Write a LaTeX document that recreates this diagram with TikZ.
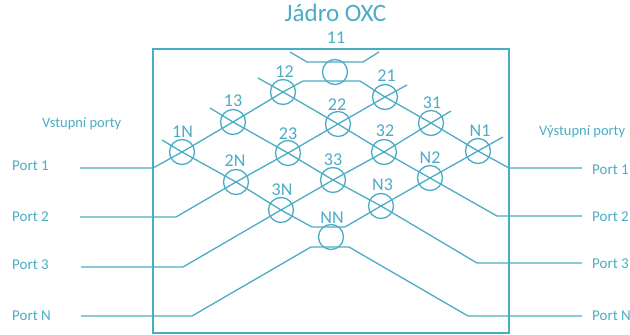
\documentclass[tikz,border=0pt]{standalone}
\usepackage{fontspec}
\setmainfont{Carlito}
\definecolor{oxc}{HTML}{4BACC6}
\begin{document}
\begin{tikzpicture}[x=1pt,y=-1pt,
  wire/.style={draw=oxc, line width=1.3pt, line join=miter},
  frame/.style={draw=oxc, line width=1.8pt},
  sw/.style={circle, draw=oxc, line width=1.3pt, minimum size=25pt, inner sep=0pt},
  num/.style={text=oxc, font=\fontsize{18}{20}\selectfont, inner sep=0pt, anchor=base},
  port/.style={text=oxc, font=\fontsize{15}{17}\selectfont, inner sep=0pt, anchor=base west},
  head/.style={text=oxc, font=\fontsize{14.5}{17}\selectfont, inner sep=0pt, anchor=base west},
  ttl/.style={text=oxc, font=\fontsize{25}{28}\selectfont, inner sep=0pt, anchor=base}]
\useasboundingbox (0,0) rectangle (630,335);

% title and frame
\node[ttl] (title) at (335.5,21) {Jádro OXC};
\draw[frame] (153,49) rectangle (509,333);

% switching elements
\node[sw] (c11) at (335,72) {};
\node[sw] (c12) at (283,92) {};
\node[sw] (c21) at (385,97) {};
\node[sw] (c13) at (233,122) {};
\node[sw] (c22) at (338,124) {};
\node[sw] (c31) at (431,123) {};
\node[sw] (c1N) at (182,152) {};
\node[sw] (c23) at (288,153) {};
\node[sw] (c32) at (384,152) {};
\node[sw] (cN1) at (478,151) {};
\node[sw] (c2N) at (236,182) {};
\node[sw] (c33) at (333,180) {};
\node[sw] (cN2) at (430,178) {};
\node[sw] (c3N) at (281,210) {};
\node[sw] (cN3) at (381,206) {};
\node[sw] (cNN) at (331,237) {};

% element labels
\node[num] (l11) at (336,43) {11};
\node[num] (l12) at (284.5,77) {12};
\node[num] (l21) at (386.5,81) {21};
\node[num] (l13) at (233,106) {13};
\node[num] (l22) at (337,110) {22};
\node[num] (l31) at (432,108) {31};
\node[num] (l1N) at (182.5,137) {1N};
\node[num] (l23) at (288,139) {23};
\node[num] (l32) at (385,136) {32};
\node[num] (lN1) at (480,136) {N1};
\node[num] (l2N) at (235,166) {2N};
\node[num] (l33) at (333,165) {33};
\node[num] (lN2) at (430,163) {N2};
\node[num] (l3N) at (282,195) {3N};
\node[num] (lN3) at (382.5,190) {N3};
\node[num] (lNN) at (332,223) {NN};

% port labels
\node[head] (hin) at (42,127.5) {Vstupní porty};
\node[head] (hout) at (539,135) {Výstupní porty};
\node[port] (pi1) at (12,170) {Port 1};
\node[port] (pi2) at (12,221.7) {Port 2};
\node[port] (pi3) at (12,269) {Port 3};
\node[port] (piN) at (12,320) {Port N};
\node[port] (po1) at (592,174) {Port 1};
\node[port] (po2) at (592,221.7) {Port 2};
\node[port] (po3) at (592,268) {Port 3};
\node[port] (poN) at (592,320) {Port N};

% coordinates of wire ends and bends
\coordinate (i1) at (80,168);   \coordinate (i1b) at (153,168);
\coordinate (i2) at (80,217);   \coordinate (i2b) at (176,217);
\coordinate (i3) at (81,267);   \coordinate (i3b) at (183,267);
\coordinate (iN) at (81,316);   \coordinate (iNb) at (192,316);
\coordinate (o1) at (582,168);  \coordinate (o1b) at (509,168);
\coordinate (o2) at (582,216);  \coordinate (o2b) at (497,216);
\coordinate (o3) at (582,263);  \coordinate (o3b) at (477,263);
\coordinate (oN) at (582,316);  \coordinate (oNb) at (468,316);
\coordinate (u1) at (303,81);   \coordinate (u2) at (360,81);
\coordinate (t1) at (290,52);   \coordinate (t2) at (307,62);
\coordinate (t3) at (363,62);   \coordinate (t4) at (379,52);
\coordinate (s2) at (407,85);   \coordinate (s3) at (451,111);
\coordinate (s4a) at (162,140); \coordinate (s4b) at (503,137);
\coordinate (b1) at (312,227);  \coordinate (b2) at (345,227);
\coordinate (sR2) at (258,78);  \coordinate (sR3) at (210,108);
\coordinate (n1) at (311,247);  \coordinate (n2) at (349,247);

% wires
\draw[wire] (i1) -- (i1b) -- (c1N.center) -- (c13.center) -- (c12.center) -- (u1) -- (u2)
  -- (c21.center) -- (c31.center) -- (cN1.center) -- (o1b) -- (o1);
\draw[wire] (i2) -- (i2b) -- (c2N.center) -- (c23.center) -- (c22.center) -- (c21.center) -- (s2);
\draw[wire] (i3) -- (i3b) -- (c3N.center) -- (c33.center) -- (c32.center) -- (c31.center) -- (s3);
\draw[wire] (s4a) -- (c1N.center) -- (c2N.center) -- (c3N.center) -- (b1) -- (b2)
  -- (cN3.center) -- (cN2.center) -- (cN1.center) -- (s4b);
\draw[wire] (sR2) -- (c12.center) -- (c22.center) -- (c32.center) -- (cN2.center) -- (o2b) -- (o2);
\draw[wire] (sR3) -- (c13.center) -- (c23.center) -- (c33.center) -- (cN3.center) -- (o3b) -- (o3);
\draw[wire] (t1) -- (t2) -- (t3) -- (t4);
\draw[wire] (iN) -- (iNb) -- (n1) -- (n2) -- (oNb) -- (oN);
\end{tikzpicture}
\end{document}
